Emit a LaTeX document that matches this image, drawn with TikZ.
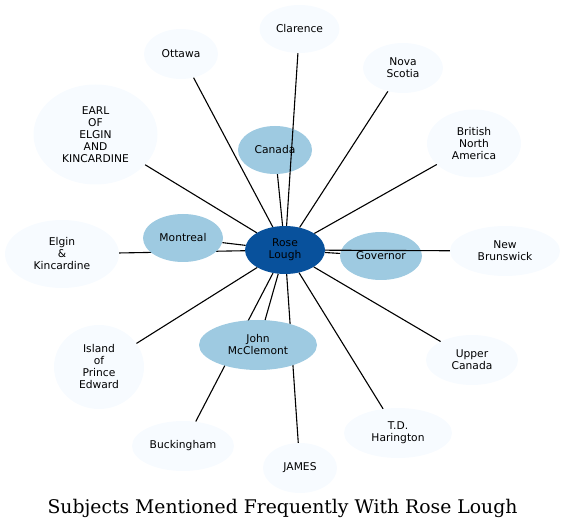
\documentclass[tikz,border=0pt]{standalone}
\usepackage{fontspec}
\newfontfamily\labelfont{DejaVu Sans}
\newfontfamily\titlefont{DejaVu Serif}
\usetikzlibrary{shapes.geometric, backgrounds}
\definecolor{hubblue}{HTML}{08519C}
\definecolor{midblue}{HTML}{9ECAE1}
\definecolor{paleblue}{HTML}{F7FBFF}
\tikzset{subject/.style={ellipse, inner sep=0pt, align=center, font=\labelfont\fontsize{10.7}{12}\selectfont}}
\tikzset{hub/.style={subject, fill=hubblue}}
\tikzset{near/.style={subject, fill=midblue}}
\tikzset{far/.style={subject, fill=paleblue}}
\tikzset{oval/.style 2 args={minimum width=#1pt, minimum height=#2pt}}
\tikzset{link/.style={line width=1.1pt}}

\begin{document}
\begin{tikzpicture}[x=1pt, y=-1pt]
    \useasboundingbox (0, 0) rectangle (565, 529);
    % centre and the subjects mentioned most often
    \node[hub, oval={80}{48}] (rose) at (285, 250) {Rose\\Lough};
    \node[near, oval={74}{48}] (canada) at (275, 150) {Canada};
    \node[near, oval={80}{48}] (montreal) at (183, 238) {Montreal};
    \node[near, oval={82}{48}] (governor) at (381, 256) {Governor};
    \node[near, oval={118}{50}] (mcclemont) at (258, 345) {John\\McClemont};
    % outer ring
    \node[far, oval={80}{48}] (clarence) at (299.5, 29) {Clarence};
    \node[far, oval={74}{50}] (ottawa) at (181, 54) {Ottawa};
    \node[far, oval={80}{50}] (novascotia) at (403, 68) {Nova\\Scotia};
    \node[far, oval={124}{100}] (earl) at (95.5, 134.5) {EARL\\OF\\ELGIN\\AND\\KINCARDINE};
    \node[far, oval={94}{68}] (bna) at (474, 143.5) {British\\North\\America};
    \node[far, oval={114}{68}] (elgin) at (62, 254) {Elgin\\\&\\Kincardine};
    \node[far, oval={110}{50}] (brunswick) at (505, 251) {New\\Brunswick};
    \node[far, oval={92}{50}] (uppercanada) at (472, 360) {Upper\\Canada};
    \node[far, oval={90}{84}] (island) at (99, 367) {Island\\of\\Prince\\Edward};
    \node[far, oval={102}{50}] (buckingham) at (183, 446) {Buckingham};
    \node[far, oval={74}{50}] (james) at (300, 468) {JAMES};
    \node[far, oval={108}{50}] (harington) at (398, 433) {T.D.\\Harington};
    \node[font=\titlefont\fontsize{18.8}{22}\selectfont, anchor=base] (title) at (282.5, 513) {Subjects Mentioned Frequently With Rose Lough};
    % links
    \foreach \other in {canada, montreal, governor, mcclemont, clarence, ottawa, novascotia, earl, bna, brunswick, uppercanada, island, harington}
        \draw[link] (rose) -- (\other);
    \begin{pgfonlayer}{background}
        \foreach \other in {elgin, buckingham, james}
            \draw[link] (rose) -- (\other);
    \end{pgfonlayer}
\end{tikzpicture}
\end{document}
